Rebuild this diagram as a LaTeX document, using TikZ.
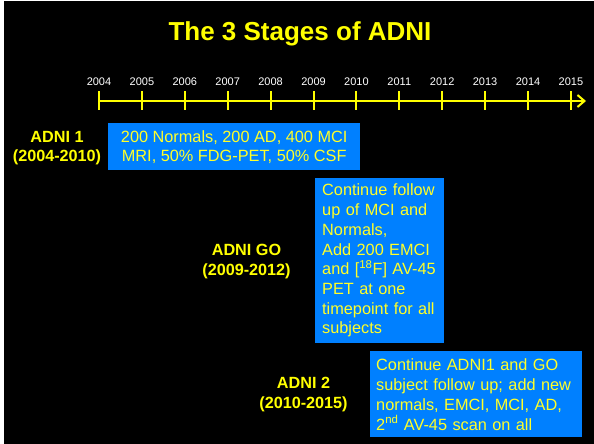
\documentclass[tikz,border=0pt]{standalone}
\usepackage{fontspec}
\setmainfont{Liberation Sans}
\usepackage{tikz}
\usetikzlibrary{arrows.meta}
\definecolor{adniblue}{RGB}{0,128,255}
\definecolor{adniyellow}{RGB}{255,255,0}
\definecolor{boxyellow}{RGB}{255,255,40}

\begin{document}
\begin{tikzpicture}[
  x=1pt,y=-1pt,
  stagebox/.style={fill=adniblue,text=boxyellow,inner sep=0pt,anchor=north west},
  stagelabel/.style={text=adniyellow,align=center,font=\bfseries\fontsize{16.2}{20}\selectfont},
  yearlabel/.style={text=white,font=\fontsize{11}{13}\selectfont}
  ]
  \useasboundingbox (0,0) rectangle (594,444);
  \fill[white] (0,0) rectangle (594,444);
  \fill[black] (4,1) rectangle (594,444);

  % title
  \node[text=adniyellow,font=\bfseries\fontsize{26}{30}\selectfont] (title) at (300,34) {The 3 Stages of ADNI};

  % timeline
  \coordinate (start) at (99,101);
  \coordinate (end) at (586,101);
  \draw[adniyellow,line width=2.5pt,-{Straight Barb[length=7pt,width=12pt,line width=2pt]}] (start) -- (end);
  \foreach \i in {0,...,11} {
    \pgfmathtruncatemacro{\yr}{2004+\i}
    \coordinate (t\i) at (99+42.9*\i,101);
    \draw[adniyellow,line width=2pt] ([yshift=10pt]t\i) -- ([yshift=-9pt]t\i);
    \node[yearlabel] (y\i) at ([yshift=19pt]t\i) {\yr};
  }

  % ADNI 1
  \node[stagelabel,font=\bfseries\fontsize{16.2}{19}\selectfont] (adni1) at (57,148.5) {ADNI 1\\(2004-2010)};
  \node[stagebox,minimum width=252pt,minimum height=47pt,align=center,
    font=\fontsize{16.3}{19}\selectfont] (box1) at (108,123)
    {200 Normals, 200 AD, 400 MCI\\MRI, 50\% FDG-PET, 50\% CSF};

  % ADNI GO
  \node[stagelabel] (adnigo) at (246.5,262) {ADNI GO\\(2009-2012)};
  \node[stagebox,minimum width=129pt,minimum height=165pt,text width=129pt,align=left,
    font=\fontsize{16.3}{19.7}\selectfont] (boxgo) at (315,178)
    {\hspace*{7pt}Continue follow\\\hspace*{7pt}up of MCI and\\\hspace*{7pt}Normals,\\\hspace*{7pt}Add 200 EMCI\\\hspace*{7pt}and [\textsuperscript{18}F] AV-45\\\hspace*{7pt}PET at one\\\hspace*{7pt}timepoint for all\\\hspace*{7pt}subjects};

  % ADNI 2
  \node[stagelabel] (adni2) at (303.5,395) {ADNI 2\\(2010-2015)};
  \node[stagebox,minimum width=212pt,minimum height=86pt,text width=212pt,align=left,
    font=\fontsize{16.3}{20}\selectfont] (box2) at (370,351)
    {\hspace*{6pt}Continue ADNI1 and GO\\\hspace*{6pt}subject follow up; add new\\\hspace*{6pt}normals, EMCI, MCI, AD,\\\hspace*{6pt}2\textsuperscript{nd} AV-45 scan on all};
\end{tikzpicture}
\end{document}
